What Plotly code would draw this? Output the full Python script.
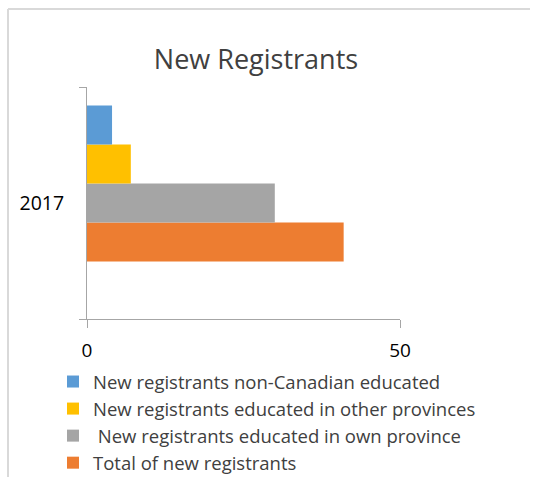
import plotly.graph_objects as go

categories = ["2017"]
series_names = [
    "New registrants non-Canadian educated",
    "New registrants educated in other provinces",
    " New registrants educated in own province",
    "Total of new registrants",
]
series_values = [[4], [7], [30], [41]]
series_colors = ["#5B9BD5", "#FFC000", "#A5A5A5", "#ED7D31"]
x_ticks = [0, 50]

FONT = "Open Sans"
L, R, T, B = 87, 133, 87, 161
W, H = 533, 480
pw, ph = W - L - R, H - T - B

fig = go.Figure()
# empty slot series (bottom of group, as in original)
fig.add_trace(go.Bar(y=categories, x=[0], orientation="h", showlegend=False,
                     marker=dict(color="rgba(0,0,0,0)", line=dict(width=0)),
                     hoverinfo="skip"))
for name, vals, col in reversed(list(zip(series_names, series_values, series_colors))):
    fig.add_trace(go.Bar(y=categories, x=vals, name=name, orientation="h",
                         marker=dict(color=col, line=dict(width=0))))

def px2x(p):
    return (p - L) / pw

def py2y(p):
    return (H - B - p) / ph

fig.update_layout(
    width=W, height=H,
    margin=dict(l=L, r=R, t=T, b=B, autoexpand=False),
    paper_bgcolor="white", plot_bgcolor="white",
    barmode="group", bargap=0.16, bargroupgap=0,
    font=dict(family=FONT, color="#404040"),
    title=dict(text="New Registrants", x=256 / W, xanchor="center",
               y=1 - 60 / H, yanchor="middle",
               font=dict(family=FONT, size=27, color="#404040")),
    legend=dict(traceorder="reversed", x=px2x(53), y=py2y(363),
                xanchor="left", yanchor="top",
                font=dict(family=FONT, size=18.5, color="#404040"),
                itemwidth=30, tracegroupgap=0, bgcolor="rgba(0,0,0,0)"),
    xaxis=dict(range=[0, 50], tickvals=x_ticks, ticktext=[str(t) for t in x_ticks],
               showgrid=True, gridcolor="#A6A6A6", gridwidth=1,
               showline=True, linecolor="#A6A6A6", linewidth=1,
               ticks="outside", ticklen=8, tickcolor="#A6A6A6",
               ticklabelstandoff=6, zeroline=False,
               tickfont=dict(family=FONT, size=19, color="#000000")),
    yaxis=dict(range=[-0.5, 0.5], type="category", tickson="boundaries",
               showgrid=False, showline=True, linecolor="#A6A6A6", linewidth=1,
               ticks="outside", ticklen=7, tickcolor="#A6A6A6",
               ticklabelstandoff=18,
               tickfont=dict(family=FONT, size=19.5, color="#000000")),
    shapes=[
        dict(type="line", xref="paper", yref="paper",
             x0=px2x(8), x1=px2x(W - 3), y0=py2y(9), y1=py2y(9),
             line=dict(color="#D9D9D9", width=2), layer="below"),
        dict(type="line", xref="paper", yref="paper",
             x0=px2x(8), x1=px2x(8), y0=py2y(9), y1=py2y(H - 3),
             line=dict(color="#D9D9D9", width=2), layer="below"),
    ],
)

fig.write_html("out.html")
